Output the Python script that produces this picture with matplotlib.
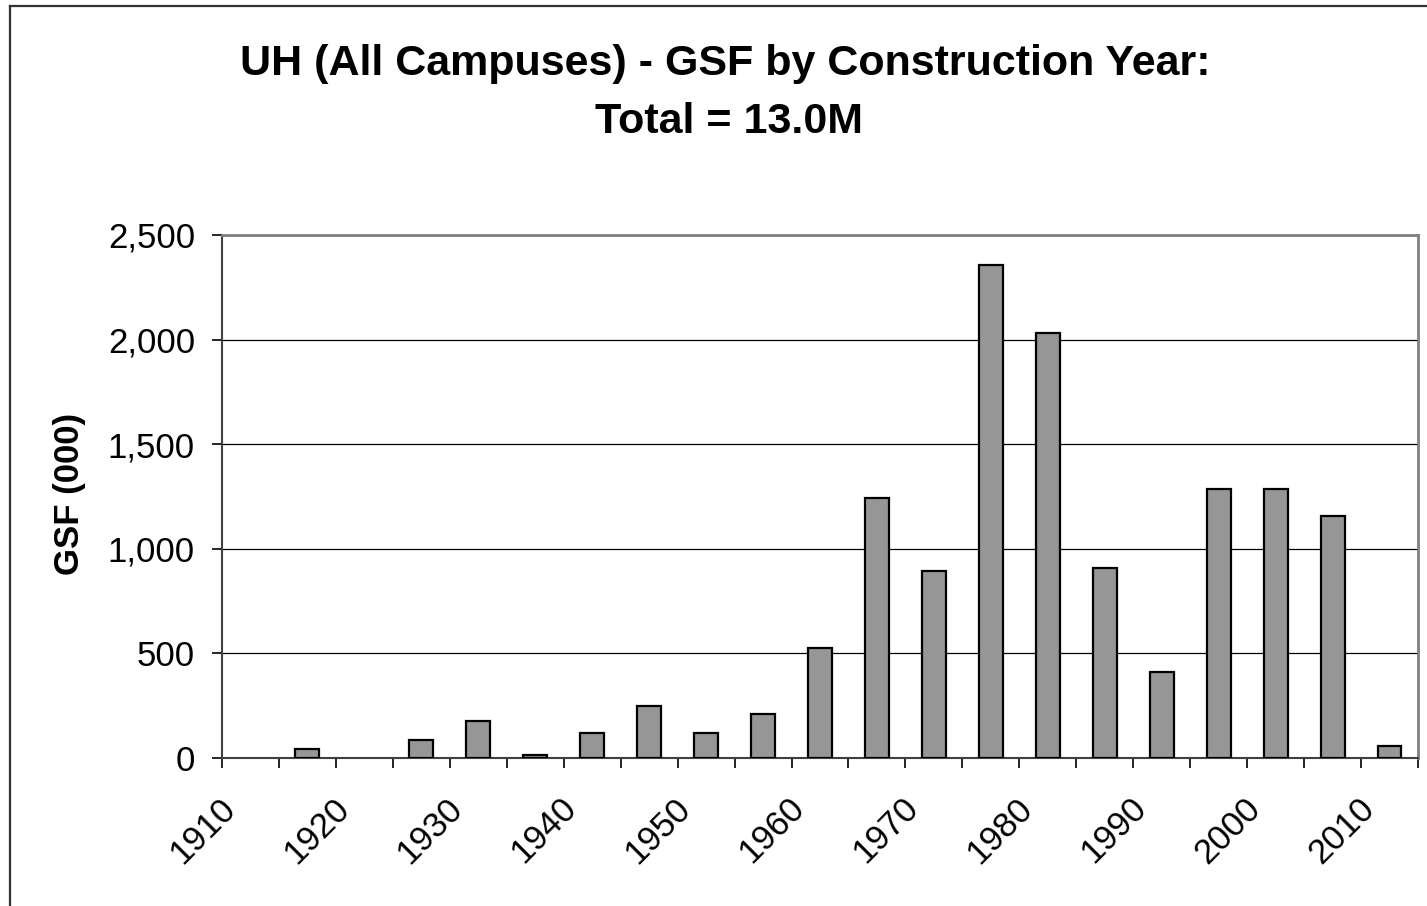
import matplotlib
matplotlib.use("Agg")
import matplotlib.pyplot as plt
from matplotlib.lines import Line2D
from matplotlib.transforms import ScaledTranslation
import numpy as np

# ---- data ----
bin_start_years = [1910, 1915, 1920, 1925, 1930, 1935, 1940, 1945, 1950, 1955,
                   1960, 1965, 1970, 1975, 1980, 1985, 1990, 1995, 2000, 2005, 2010]
gsf_thousands = [0, 45, 0, 85, 175, 15, 120, 250, 120, 212,
                 525, 1245, 893, 2355, 2030, 907, 409, 1285, 1285, 1155, 56]
decade_labels = ["1910", "1920", "1930", "1940", "1950", "1960",
                 "1970", "1980", "1990", "2000", "2010"]
y_ticks = [0, 500, 1000, 1500, 2000, 2500]
title_line1 = "UH (All Campuses) - GSF by Construction Year:"
title_line2 = "Total = 13.0M"
y_label = "GSF (000)"

plt.rcParams['font.family'] = ['Liberation Sans', 'DejaVu Sans']

W, H = 1427, 906
fig = plt.figure(figsize=(W / 100, H / 100), dpi=100)
fig.patch.set_facecolor("white")

ax = fig.add_axes([222 / W, 1 - 758 / H, (1418 - 222) / W, (758 - 235) / H])

n = len(bin_start_years)
x = np.arange(n)
vals = np.array(gsf_thousands, dtype=float)
nz = vals > 0
ax.bar(x[nz], vals[nz], width=0.42, color="#969696", edgecolor="black",
       linewidth=1.6, zorder=3)

ax.set_xlim(-0.5, n - 0.5)
ax.set_ylim(0, 2500)

# y axis
ax.set_yticks(y_ticks)
ax.set_yticklabels([f"{v:,}" for v in y_ticks])
ax.tick_params(axis="y", direction="out", length=7.5, width=1.2, pad=12,
               labelsize=25, colors="black")
ax.yaxis.grid(True, color="black", linewidth=0.9, zorder=0)

# x axis: ticks at every bin boundary, labels every decade
boundaries = np.arange(n + 1) - 0.5
ax.set_xticks(boundaries)
labels = []
k = 0
for i in range(n + 1):
    if i % 2 == 0 and k < len(decade_labels):
        labels.append(decade_labels[k])
        k += 1
    else:
        labels.append("")
ax.set_xticklabels(labels, rotation=45, ha="right", va="center",
                   rotation_mode="anchor")
ax.tick_params(axis="x", direction="out", length=7.5, width=1.2, pad=25,
               labelsize=25, colors="black")
offset = ScaledTranslation(8 / 100, 0, fig.dpi_scale_trans)
for lab in ax.get_xticklabels():
    lab.set_transform(lab.get_transform() + offset)

for s in ["top", "right"]:
    ax.spines[s].set_color("#808080")
    ax.spines[s].set_linewidth(2)
ax.spines["left"].set_color("#404040")
ax.spines["left"].set_linewidth(1.5)
ax.spines["bottom"].set_color("#404040")
ax.spines["bottom"].set_linewidth(1.5)
ax.set_axisbelow(True)

# titles
fig.text(725 / W, 1 - 64 / H, title_line1, ha="center", va="center",
         fontsize=31, fontweight="bold")
fig.text(729 / W, 1 - 122 / H, title_line2, ha="center", va="center",
         fontsize=31, fontweight="bold")
fig.text(69 / W, 1 - 494 / H, y_label, ha="center", va="center",
         rotation=90, fontsize=25, fontweight="bold")

# outer chart border (left and top edges visible)
bx, by = 9.5 / W, 1 - 5.5 / H
fig.add_artist(Line2D([bx, bx], [0, by], transform=fig.transFigure,
                      color="#333333", linewidth=1.6))
fig.add_artist(Line2D([bx, 1], [by, by], transform=fig.transFigure,
                      color="#333333", linewidth=1.6))

fig.savefig("out.png", dpi=100, facecolor="white")
